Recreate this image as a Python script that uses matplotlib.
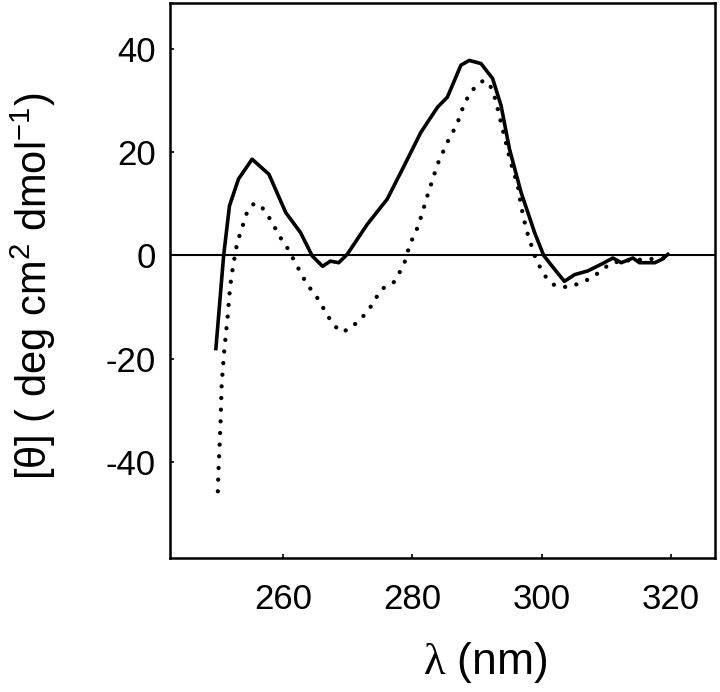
import matplotlib
matplotlib.use("Agg")
import matplotlib.pyplot as plt

# solid curve
wl_solid = [249.6, 250.8, 251.7, 253.1, 255.2, 257.8, 260.4, 262.7, 264.5, 266.1,
            267.3, 268.6, 269.9, 273.0, 276.1, 278.7, 281.3, 283.9, 285.4, 287.5,
            288.8, 290.6, 292.4, 293.7, 295.0, 296.8, 298.9, 300.3, 302.0, 303.5,
            305.1, 307.1, 309.2, 311.0, 312.3, 314.1, 315.1, 317.5, 318.5, 319.5]
th_solid = [-18.0, 0.0, 9.6, 14.8, 18.6, 15.7, 8.3, 4.4, -0.1, -2.1,
            -1.1, -1.4, 0.2, 6.0, 10.9, 17.3, 23.8, 28.7, 30.6, 36.8,
            37.7, 37.1, 34.2, 29.0, 20.6, 12.2, 4.4, 0.0, -2.7, -5.0,
            -3.7, -3.0, -1.7, -0.5, -1.4, -0.5, -1.4, -1.4, -0.8, 0.2]

# dotted curve
wl_dot = [249.9, 250.0, 250.3, 250.5, 250.9, 251.4, 251.8, 252.3, 252.9, 253.4,
          254.4, 255.4, 256.4, 258.0, 259.6, 260.5, 262.1, 263.6, 265.4, 267.0,
          268.7, 270.1, 272.1, 273.8, 275.1, 277.1, 277.9, 278.7, 279.6, 280.9,
          282.3, 283.9, 285.4, 286.9, 288.0, 288.9, 289.9, 291.1, 292.1, 292.8,
          295.2, 296.3, 296.8, 297.6, 298.1, 299.1, 299.8, 300.7, 302.0, 303.3,
          304.6, 305.9, 307.1, 308.4, 309.7, 310.9, 313.0, 315.5, 318.0, 320.0]
th_dot = [-45.6, -41.5, -33.1, -24.7, -18.3, -12.1, -6.0, -1.7, 2.5, 4.4,
          8.3, 9.9, 9.9, 7.0, 3.4, 1.8, -1.9, -5.4, -8.4, -11.9,
          -14.7, -14.4, -12.2, -9.5, -6.6, -5.2, -3.5, -1.7, 2.1, 5.7,
          11.5, 17.7, 21.9, 25.4, 29.3, 31.3, 32.9, 33.9, 32.6, 30.3,
          18.0, 13.5, 9.6, 5.0, 3.1, -0.8, -2.4, -4.3, -5.8, -6.1,
          -6.0, -5.3, -4.7, -3.7, -2.4, -1.4, -1.0, -0.8, -0.6, -0.5]

x_ticks = [260, 280, 300, 320]
y_ticks = [-40, -20, 0, 20, 40]

plt.rcParams['font.family'] = ['Liberation Sans', 'DejaVu Sans']
plt.rcParams['axes.unicode_minus'] = False
plt.rcParams['mathtext.fontset'] = 'custom'
plt.rcParams['mathtext.rm'] = 'Liberation Serif'

fig = plt.figure(figsize=(7.2, 6.92), dpi=100)
ax = fig.add_axes([0.2361, 0.1936, 0.757, 0.802])

ax.axhline(0, color='black', lw=1.5)
ax.plot(wl_solid, th_solid, color='black', lw=2.6, solid_joinstyle='round')
ax.plot(wl_dot, th_dot, color='black', lw=3.1, linestyle=(0, (0.01, 2.7)),
        dash_capstyle='round')

ax.set_xlim(242.5, 326.8)
ax.set_ylim(-58.5, 48.8)
ax.set_xticks(x_ticks)
ax.set_yticks(y_ticks)
ax.tick_params(direction='in', length=3, width=1.2, labelsize=25)
ax.tick_params(axis='x', pad=18)
ax.tick_params(axis='y', pad=10)
for s in ax.spines.values():
    s.set_linewidth(1.8)

ax.set_xlabel(r'$\mathrm{\lambda}$ (nm)', fontsize=32)
ax.xaxis.set_label_coords(0.578, -0.147)
ax.xaxis.label.set_va('top')
ax.set_ylabel('[\u03b8] ( deg cm$\\mathregular{^2}$ dmol$\\mathregular{^{-1}}$)',
              fontsize=30)
ax.yaxis.set_label_coords(-0.2055, 0.49)

fig.savefig('out.png', dpi=100)
